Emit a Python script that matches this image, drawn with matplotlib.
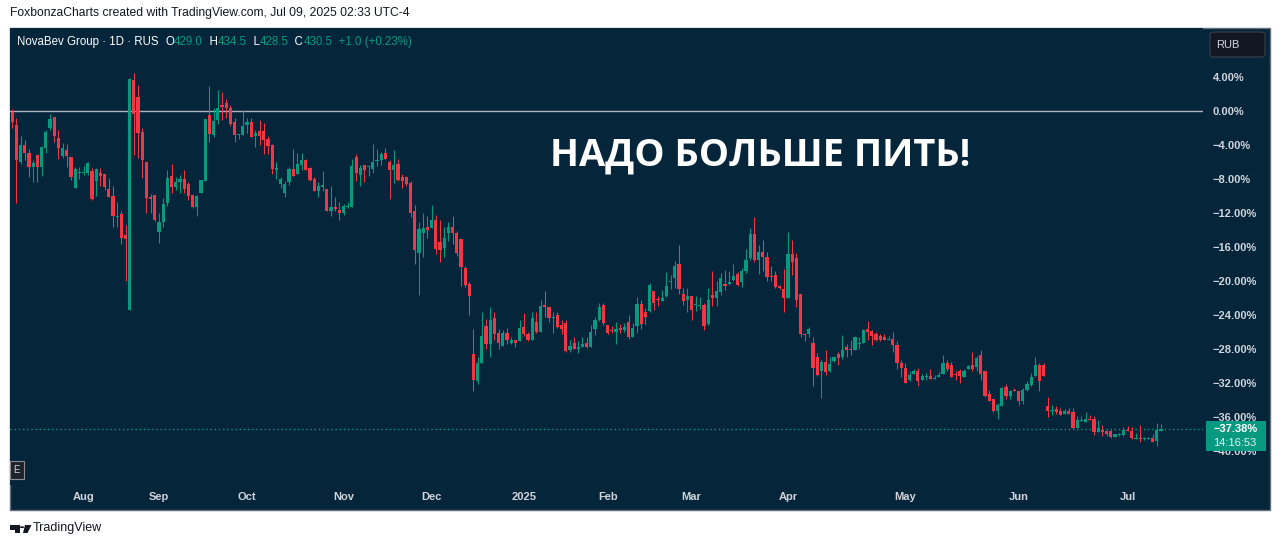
import numpy as np
import matplotlib
matplotlib.use("Agg")
import matplotlib.pyplot as plt
from matplotlib.patches import Rectangle, FancyBboxPatch, Circle, Polygon

# daily candles, % change vs first bar
opens = [-0.1, -1.7, -6.0, -4.0, -4.9, -6.6, -5.2, -6.6, -4.3, -2.0,
         -0.7, -3.2, -5.3, -4.6, -5.4, -9.1, -7.3, -7.3, -7.3, -7.1,
         -8.2, -7.3, -7.4, -9.2, -10.0, -12.5, -12.1, -14.6, -23.4, 3.7,
         1.6, -2.5, -6.0, -10.1, -9.9, -14.2, -13.1, -10.8, -7.7, -8.9,
         -8.3, -8.0, -8.6, -9.9, -11.3, -9.7, -8.2, -0.5, -2.8, -1.1,
         0.7, 0.9, 0.4, -1.3, -2.8, -2.8, -1.7, -1.3, -3.0, -2.4,
         -2.4, -3.3, -4.0, -7.0, -8.6, -9.6, -8.3, -6.8, -7.4, -6.4,
         -5.8, -6.7, -8.0, -9.4, -9.0, -9.2, -11.8, -11.3, -11.7, -12.0,
         -11.3, -11.3, -5.4, -7.5, -6.4, -6.6, -6.8, -5.9, -5.8, -5.0,
         -6.0, -7.0, -6.2, -7.8, -7.8, -8.5, -11.8, -16.7, -14.3, -13.7,
         -13.8, -12.8, -15.4, -16.1, -14.4, -13.7, -14.3, -15.1, -18.5, -20.4,
         -28.6, -31.8, -29.6, -25.3, -27.4, -24.4, -26.1, -27.6, -26.1, -27.3,
         -26.9, -27.1, -25.4, -26.2, -26.9, -24.8, -26.0, -22.8, -23.1, -24.4,
         -24.0, -25.2, -25.0, -28.1, -27.3, -28.0, -27.8, -27.3, -27.8, -25.7,
         -24.6, -22.8, -25.2, -25.8, -26.0, -25.5, -25.8, -24.8, -26.6, -25.3,
         -22.7, -23.7, -23.5, -21.2, -22.1, -22.3, -21.8, -20.1, -19.6, -18.0,
         -21.5, -22.2, -21.8, -22.8, -23.0, -22.8, -25.1, -21.7, -22.0, -21.3,
         -20.3, -20.4, -19.9, -19.2, -20.1, -18.8, -17.3, -14.5, -17.5, -16.6,
         -17.2, -19.4, -19.3, -20.6, -21.0, -22.0, -16.8, -17.3, -21.5, -26.2,
         -26.2, -27.3, -29.0, -30.6, -29.5, -30.6, -29.4, -28.6, -29.0, -27.8,
         -28.0, -28.1, -27.4, -27.3, -25.7, -25.9, -26.2, -26.5, -26.6, -26.9,
         -26.8, -27.5, -29.6, -30.2, -31.7, -30.9, -30.6, -31.7, -31.3, -31.2,
         -31.5, -31.3, -30.9, -29.6, -29.9, -31.0, -30.6, -31.3, -30.4, -29.9,
         -30.1, -28.7, -30.6, -33.3, -33.9, -35.3, -34.7, -32.5, -33.5, -32.8,
         -33.0, -34.1, -32.8, -32.2, -31.2, -29.9, -29.9, -34.7, -35.3, -35.1,
         -35.3, -35.6, -35.3, -35.4, -37.3, -36.5, -36.6, -36.2, -36.2, -37.8,
         -37.5, -37.6, -37.7, -38.3, -38.1, -38.1, -37.5, -37.6, -38.6, -38.5,
         -38.6, -38.6, -38.5, -38.8, -37.7]
highs = [0.2, -0.8, -2.9, -3.4, -4.5, -5.8, -5.2, -4.1, -2.2, -0.4,
         -0.7, -2.2, -3.8, -3.9, -5.4, -6.6, -6.6, -6.5, -6.0, -6.7,
         -6.7, -6.7, -7.4, -7.9, -8.8, -10.7, -11.8, -13.4, 3.9, 4.5,
         3.1, -2.0, -6.0, -9.8, -9.9, -12.0, -10.2, -6.9, -6.2, -7.8,
         -7.5, -6.9, -8.4, -9.9, -9.9, -8.1, -0.9, 2.9, 0.4, 2.5,
         2.2, 1.4, 0.7, -0.8, -2.7, 0.1, -0.8, -0.8, -2.2, -1.1,
         -1.4, -3.0, -3.9, -6.0, -7.8, -8.2, -6.6, -4.5, -4.9, -4.9,
         -5.6, -6.6, -7.8, -8.4, -7.1, -9.2, -8.8, -10.1, -10.7, -11.0,
         -10.7, -5.6, -5.1, -6.4, -6.4, -6.4, -3.9, -4.5, -4.8, -4.3,
         -5.8, -4.6, -5.7, -7.4, -7.7, -8.2, -11.1, -13.1, -12.0, -12.4,
         -11.1, -12.2, -12.8, -13.7, -13.1, -12.4, -14.1, -15.1, -18.2, -20.1,
         -25.6, -29.0, -23.6, -24.5, -23.1, -23.7, -25.7, -25.8, -25.5, -26.6,
         -26.9, -24.6, -23.8, -26.0, -23.7, -23.7, -22.2, -21.2, -23.1, -23.6,
         -23.7, -24.6, -24.6, -26.9, -26.6, -27.1, -26.6, -26.6, -25.2, -24.2,
         -22.6, -22.6, -25.2, -25.3, -24.8, -25.1, -24.9, -24.0, -24.9, -21.9,
         -22.2, -23.2, -20.2, -21.2, -21.8, -21.1, -18.9, -19.3, -17.6, -15.8,
         -20.8, -20.8, -21.8, -21.8, -21.9, -22.6, -20.8, -18.8, -20.0, -19.1,
         -18.7, -18.8, -18.0, -18.9, -18.5, -16.2, -13.8, -12.5, -15.8, -15.2,
         -16.6, -18.2, -18.8, -20.5, -18.6, -14.2, -15.2, -16.7, -21.5, -26.1,
         -25.4, -26.6, -28.5, -29.3, -28.1, -28.9, -28.9, -28.3, -26.4, -27.4,
         -27.0, -26.5, -26.6, -25.7, -24.7, -25.8, -26.0, -26.2, -26.2, -26.5,
         -26.0, -27.1, -29.3, -29.6, -30.6, -30.4, -30.2, -30.9, -30.8, -30.3,
         -31.1, -30.7, -28.7, -29.3, -29.5, -30.6, -30.3, -30.3, -29.9, -28.4,
         -28.8, -28.1, -30.6, -32.8, -33.9, -34.4, -32.5, -32.1, -32.8, -32.6,
         -33.0, -32.6, -31.8, -30.8, -29.0, -29.6, -29.6, -33.7, -34.6, -34.7,
         -35.0, -35.1, -35.0, -35.0, -35.9, -35.9, -35.4, -35.8, -35.9, -36.4,
         -36.9, -37.5, -37.5, -38.0, -37.9, -37.2, -37.1, -37.2, -37.9, -36.9,
         -38.3, -38.4, -38.0, -36.7, -36.8]
lows = [-2.0, -10.8, -6.2, -5.8, -7.8, -8.3, -8.3, -7.7, -4.9, -2.2,
        -3.6, -5.7, -5.5, -6.6, -8.1, -9.1, -8.0, -7.5, -7.5, -10.5,
        -10.0, -8.8, -9.3, -10.1, -13.6, -13.6, -15.6, -20.0, -23.4, -5.2,
        -5.5, -7.9, -12.0, -12.0, -12.9, -15.5, -13.6, -11.2, -9.7, -9.3,
        -9.7, -9.6, -10.5, -11.4, -12.4, -9.7, -8.2, -3.7, -3.1, -1.5,
        -1.1, -0.8, -1.8, -3.7, -3.3, -2.8, -2.6, -3.1, -4.2, -4.0,
        -5.1, -5.1, -7.4, -8.0, -9.1, -10.1, -8.7, -7.7, -7.4, -6.9,
        -6.9, -8.2, -9.4, -10.1, -9.4, -11.8, -12.4, -11.8, -12.8, -12.2,
        -11.4, -11.3, -8.2, -8.8, -8.4, -7.7, -7.3, -6.5, -6.4, -5.6,
        -10.4, -8.5, -8.2, -9.1, -8.8, -12.5, -18.0, -21.7, -17.2, -15.0,
        -13.8, -16.8, -17.8, -17.2, -15.3, -15.7, -17.1, -20.6, -20.7, -24.0,
        -33.0, -32.1, -29.6, -28.0, -29.0, -27.0, -28.0, -27.6, -27.4, -27.4,
        -27.8, -27.1, -26.5, -27.1, -27.0, -26.1, -26.0, -24.2, -24.8, -26.1,
        -25.5, -26.2, -28.4, -28.4, -28.0, -28.5, -27.8, -27.9, -27.8, -26.4,
        -24.7, -25.2, -26.2, -26.1, -27.4, -26.1, -26.0, -26.8, -26.6, -26.1,
        -25.6, -25.1, -23.7, -23.4, -22.9, -22.3, -21.9, -20.9, -20.8, -21.5,
        -22.8, -23.6, -24.6, -23.5, -23.3, -25.8, -25.2, -23.0, -22.9, -21.7,
        -21.1, -20.5, -20.0, -20.6, -20.7, -19.1, -17.5, -17.8, -19.2, -18.8,
        -20.0, -20.0, -20.8, -20.9, -23.7, -22.0, -19.3, -23.1, -26.6, -27.1,
        -26.6, -32.4, -31.2, -33.8, -31.1, -30.7, -29.5, -29.9, -29.2, -28.9,
        -28.7, -28.1, -28.0, -27.3, -26.9, -27.5, -27.1, -27.1, -26.9, -26.9,
        -28.3, -30.3, -31.3, -32.0, -31.8, -30.9, -32.4, -31.7, -31.6, -31.5,
        -31.5, -31.3, -30.9, -30.6, -31.3, -31.7, -32.0, -31.3, -30.4, -30.6,
        -30.6, -31.6, -33.7, -34.1, -35.4, -36.2, -34.7, -33.9, -33.9, -33.0,
        -34.6, -34.5, -32.9, -32.4, -31.2, -33.0, -31.2, -36.0, -35.8, -35.7,
        -35.8, -35.7, -35.7, -37.4, -37.3, -36.5, -36.6, -36.4, -38.1, -37.8,
        -38.2, -38.2, -38.5, -38.3, -38.2, -38.2, -37.7, -38.6, -38.6, -38.9,
        -38.7, -38.6, -38.9, -39.4, -37.7]
closes = [-1.3, -5.8, -4.0, -5.0, -6.6, -6.1, -6.6, -4.2, -2.5, -0.9,
          -2.9, -4.4, -4.4, -5.3, -7.8, -6.8, -7.2, -7.2, -6.1, -10.4,
          -6.8, -7.7, -8.9, -10.1, -12.4, -12.4, -14.9, -15.1, 3.8, -0.3,
          -2.6, -5.8, -10.2, -10.4, -12.8, -13.1, -10.9, -7.9, -8.9, -8.3,
          -8.0, -9.2, -10.0, -11.3, -10.0, -8.1, -0.9, -2.7, -1.2, 0.4,
          0.5, 0.4, -1.5, -2.8, -2.7, -1.8, -1.3, -3.1, -2.6, -3.0,
          -3.4, -4.1, -6.8, -6.7, -8.0, -8.6, -6.8, -7.7, -6.2, -5.8,
          -6.9, -8.1, -9.4, -8.8, -8.7, -11.8, -11.3, -11.5, -12.0, -11.2,
          -11.2, -6.5, -7.3, -6.7, -7.0, -6.5, -6.0, -5.8, -5.1, -5.6,
          -7.0, -6.4, -8.1, -8.2, -8.6, -12.0, -16.4, -13.9, -13.8, -14.0,
          -12.8, -16.2, -16.4, -14.9, -13.7, -14.3, -16.7, -18.3, -20.5, -21.8,
          -31.7, -29.6, -26.5, -27.4, -24.6, -26.2, -27.3, -26.1, -26.9, -27.0,
          -27.3, -25.5, -26.2, -26.9, -24.3, -26.0, -23.0, -23.1, -24.3, -24.2,
          -25.4, -25.6, -28.2, -27.6, -28.0, -27.8, -27.4, -27.8, -26.0, -24.6,
          -23.1, -25.0, -26.1, -25.9, -25.7, -25.8, -25.4, -26.6, -25.5, -22.7,
          -25.1, -24.2, -20.5, -22.6, -22.2, -22.0, -20.6, -20.0, -18.2, -21.0,
          -22.4, -21.8, -23.4, -22.7, -22.9, -25.3, -22.2, -22.0, -21.2, -19.7,
          -20.6, -20.1, -19.4, -20.5, -18.8, -17.5, -14.5, -17.5, -16.6, -17.2,
          -19.5, -19.5, -20.7, -20.8, -22.0, -16.8, -17.8, -22.2, -26.2, -26.4,
          -25.6, -30.2, -31.1, -29.5, -30.7, -29.8, -29.0, -29.1, -28.1, -28.1,
          -28.1, -26.6, -27.3, -25.8, -26.0, -26.5, -26.9, -26.9, -26.9, -26.8,
          -27.5, -29.6, -30.2, -32.0, -31.1, -30.6, -31.8, -31.2, -31.2, -31.5,
          -31.4, -31.1, -29.6, -30.3, -31.3, -31.1, -31.2, -30.6, -30.0, -30.4,
          -29.1, -30.9, -33.5, -34.1, -35.3, -34.6, -32.6, -33.5, -33.0, -33.0,
          -34.1, -32.8, -32.1, -31.3, -29.9, -31.8, -31.2, -35.3, -35.2, -35.4,
          -35.8, -35.3, -35.6, -37.3, -36.4, -36.4, -36.2, -36.4, -37.8, -37.3,
          -37.8, -38.0, -38.4, -38.0, -38.0, -37.5, -37.7, -38.5, -38.5, -38.6,
          -38.5, -38.5, -38.9, -37.5, -37.38]

month_labels = ["Aug", "Sep", "Oct", "Nov", "Dec", "2025", "Feb", "Mar",
                "Apr", "May", "Jun", "Jul"]
month_bars = [17, 35, 56, 79, 100, 122, 142, 162, 185, 213, 240, 266]
pct_ticks = [4, 0, -4, -8, -12, -16, -20, -24, -28, -32, -36, -40]

BG = "#04253a"
UP = "#089981"
DOWN = "#f23645"
TXT = "#d1d4dc"

W, H = 1281, 546
fig = plt.figure(figsize=(W / 100, H / 100), dpi=100)
fig.patch.set_facecolor("white")


def fx(x):
    return x / W


def fy(y):
    return 1 - y / H


# dark panel with thin border
fig.add_artist(Rectangle((fx(10), fy(510)), fx(1270) - fx(10), fy(28) - fy(510),
                         transform=fig.transFigure, fc=BG, ec="#5f6e7a", lw=1, zorder=-1))

ax = fig.add_axes([fx(10), fy(485), fx(1203) - fx(10), fy(28) - fy(485)])
ax.set_facecolor(BG)
for s in ax.spines.values():
    s.set_visible(False)

o = np.array(opens)
h = np.array(highs)
l = np.array(lows)
c = np.array(closes)
x = np.arange(len(o))
cols = np.where(c >= o, UP, DOWN)

ax.vlines(x, l, h, colors=cols, linewidth=0.75, zorder=3)
body_bottom = np.minimum(o, c)
body_h = np.maximum(np.abs(c - o), 0.12)
ax.bar(x, body_h, bottom=body_bottom, width=0.76, color=cols, linewidth=0, zorder=4)

ax.axhline(0, color="#b2b5be", lw=1, zorder=2)
ax.axhline(c[-1], color=UP, lw=1, ls=(0, (1, 2)), zorder=2)

ax.set_xlim(-0.55, 284)
ax.set_ylim(-44.0, 9.76)

ax.set_xticks(month_bars)
ax.set_xticklabels(month_labels)
ax.set_yticks(pct_ticks)
ax.set_yticklabels([f"{v:.2f}%".replace("-", "\u2212") for v in pct_ticks])
ax.yaxis.tick_right()
ax.tick_params(axis="y", length=0, pad=7, labelsize=8, labelcolor=TXT)
ax.tick_params(axis="x", length=0, pad=5, labelsize=8, labelcolor=TXT)
for lab in ax.get_xticklabels() + ax.get_yticklabels():
    lab.set_fontfamily("Liberation Sans")
    lab.set_fontweight("bold")

# big caption
fig.text(fx(760), fy(166), "НАДО БОЛЬШЕ ПИТЬ!", ha="center", va="baseline",
         fontsize=27.4, fontweight="bold", family="Open Sans", color="white")

# top caption
fig.text(fx(10), fy(13), "FoxbonzaCharts created with TradingView.com, Jul 09, 2025 02:33 UTC-4",
         ha="left", va="center", fontsize=8.7, family="Liberation Sans", color="#131722")

# legend line inside panel
pieces = [("NovaBev Group \u00b7 1D \u00b7 RUS  ", "white"), ("O", "white"), ("429.0", UP),
          ("  H", "white"), ("434.5", UP), ("  L", "white"), ("428.5", UP),
          ("  C", "white"), ("430.5", UP), ("  +1.0 (+0.23%)", UP)]
renderer = fig.canvas.get_renderer()
xpos = 17
for s, col in pieces:
    t = fig.text(fx(xpos), fy(42), s, ha="left", va="center", fontsize=8.3,
                 family="Liberation Sans", color=col, zorder=6)
    xpos += t.get_window_extent(renderer).width

# currency button
fig.add_artist(FancyBboxPatch((fx(1210), fy(57)), fx(1265) - fx(1210), fy(32) - fy(57),
                              boxstyle="round,pad=0,rounding_size=0.004",
                              transform=fig.transFigure, fc="#131722", ec="#3a3f4b", lw=0.8, zorder=5))
fig.text(fx(1228), fy(44.5), "RUB", ha="center", va="center", fontsize=8,
         family="Liberation Sans", color=TXT, zorder=6)

# last price label
fig.add_artist(Rectangle((fx(1206), fy(451)), fx(1266) - fx(1206), fy(421) - fy(451),
                         transform=fig.transFigure, fc=UP, ec="none", zorder=5))
fig.text(fx(1213), fy(429), f"{c[-1]:.2f}%".replace("-", "\u2212"), ha="left", va="center",
         fontsize=8, fontweight="bold", family="Liberation Sans", color="white", zorder=6)
fig.text(fx(1213), fy(443), "14:16:53", ha="left", va="center",
         fontsize=8, family="Liberation Sans", color="#e6f5f1", zorder=6)

# "E" marker box
fig.add_artist(Rectangle((fx(10), fy(479)), fx(24) - fx(10), fy(461) - fy(479),
                         transform=fig.transFigure, fc="#1e222d", ec="#8a8d96", lw=0.8, zorder=5))
fig.text(fx(17), fy(470), "E", ha="center", va="center", fontsize=7,
         family="Liberation Sans", color=TXT, zorder=6)

# TradingView logo
logo = "#131722"
fig.add_artist(Rectangle((fx(10), fy(529.5)), fx(19.5) - fx(10), fy(525) - fy(529.5),
                         transform=fig.transFigure, fc=logo, ec="none"))
fig.add_artist(Rectangle((fx(15), fy(533)), fx(19.5) - fx(15), fy(525) - fy(533),
                         transform=fig.transFigure, fc=logo, ec="none"))
fig.add_artist(Circle((fx(22), fy(527.2)), 2.2 / W, transform=fig.transFigure,
                      fc=logo, ec="none"))
fig.add_artist(Polygon([(fx(25), fy(525)), (fx(31.5), fy(525)),
                        (fx(27.5), fy(533)), (fx(23), fy(533))],
                       closed=True, transform=fig.transFigure, fc=logo, ec="none"))
fig.text(fx(33), fy(528), "TradingView", ha="left", va="center", fontsize=9,
         family="Liberation Sans", color=logo)

fig.savefig("out.png", dpi=100, facecolor="white")
